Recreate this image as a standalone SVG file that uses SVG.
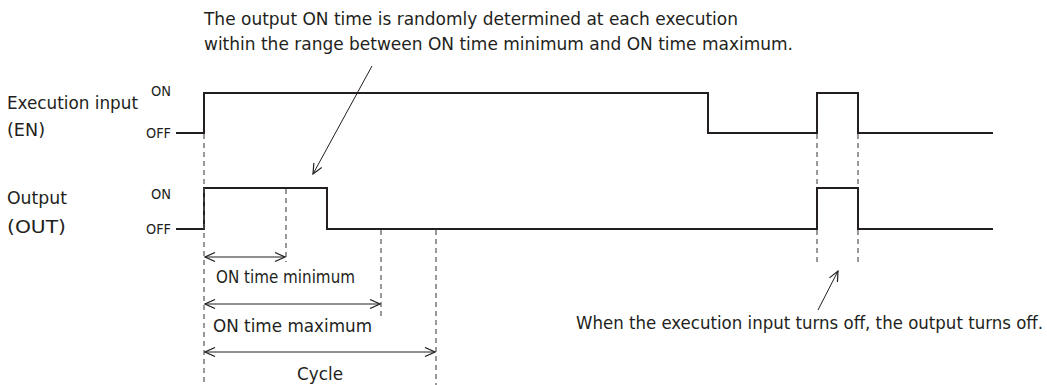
<svg xmlns="http://www.w3.org/2000/svg" width="1047" height="385" viewBox="0 0 1047 385">
<style>
text{font-family:"DejaVu Sans Condensed","DejaVu Sans",sans-serif;fill:#231f20}
.lbl{font-size:17px}
.sm{font-size:14px;text-anchor:end}
.sig{fill:none;stroke:#231f20;stroke-width:2}
.dash{fill:none;stroke:#555;stroke-width:1.2;stroke-dasharray:5,4}
.dim{fill:none;stroke:#231f20;stroke-width:1;marker-start:url(#open);marker-end:url(#open)}
.lead{fill:none;stroke:#231f20;stroke-width:1;marker-end:url(#open)}
</style>
<defs>
<marker id="open" viewBox="0 0 12 10" refX="11" refY="5" markerWidth="12" markerHeight="10" markerUnits="userSpaceOnUse" orient="auto-start-reverse">
<path d="M1,0.5 L11,5 L1,9.5" fill="none" stroke="#231f20" stroke-width="1.2"/>
</marker>
</defs>
<g id="labels">
<text class="lbl" x="7" y="109" textLength="131" lengthAdjust="spacingAndGlyphs">Execution input</text>
<text class="lbl" x="7" y="136" textLength="38" lengthAdjust="spacingAndGlyphs">(EN)</text>
<text class="lbl" x="7" y="204" textLength="60" lengthAdjust="spacingAndGlyphs">Output</text>
<text class="lbl" x="7" y="233" textLength="59" lengthAdjust="spacingAndGlyphs">(OUT)</text>
<text class="sm" x="171" y="96" textLength="20" lengthAdjust="spacingAndGlyphs">ON</text>
<text class="sm" x="171" y="138" textLength="25" lengthAdjust="spacingAndGlyphs">OFF</text>
<text class="sm" x="171" y="199" textLength="20" lengthAdjust="spacingAndGlyphs">ON</text>
<text class="sm" x="171" y="234" textLength="25" lengthAdjust="spacingAndGlyphs">OFF</text>
</g>
<g id="signal-en">
<polyline class="sig" points="176,133 204,133 204,93 708,93 708,133 817,133 817,93 858,93 858,133 993,133"/>
</g>
<g id="signal-out">
<polyline class="sig" points="176,229 204,229 204,188 327,188 327,229 817,229 817,188 858,188 858,229 993,229"/>
</g>
<g id="connectors">
<line class="dash" x1="204" y1="134" x2="204" y2="385"/>
<line class="dash" x1="286" y1="189" x2="286" y2="262"/>
<line class="dash" x1="381" y1="230" x2="381" y2="318"/>
<line class="dash" x1="436" y1="230" x2="436" y2="385"/>
<line class="dash" x1="817" y1="134" x2="817" y2="188"/>
<line class="dash" x1="858" y1="134" x2="858" y2="188"/>
<line class="dash" x1="817" y1="230" x2="817" y2="263"/>
<line class="dash" x1="858" y1="230" x2="858" y2="263"/>
<line class="dim" x1="205" y1="257" x2="285" y2="257"/>
<line class="dim" x1="205" y1="304" x2="380" y2="304"/>
<line class="dim" x1="205" y1="352" x2="435" y2="352"/>
<line class="lead" x1="372" y1="66" x2="313" y2="174"/>
<line class="lead" x1="818" y1="310" x2="838" y2="271"/>
</g>
<g id="annotations">
<text class="lbl" x="204" y="25" textLength="534" lengthAdjust="spacingAndGlyphs">The output ON time is randomly determined at each execution</text>
<text class="lbl" x="204" y="50" textLength="589" lengthAdjust="spacingAndGlyphs">within the range between ON time minimum and ON time maximum.</text>
<text class="lbl" x="216" y="283" textLength="139" lengthAdjust="spacingAndGlyphs">ON time minimum</text>
<text class="lbl" x="213" y="332" textLength="159" lengthAdjust="spacingAndGlyphs">ON time maximum</text>
<text class="lbl" x="297" y="380" textLength="46" lengthAdjust="spacingAndGlyphs">Cycle</text>
<text class="lbl" x="576" y="329" textLength="467" lengthAdjust="spacingAndGlyphs">When the execution input turns off, the output turns off.</text>
</g>
</svg>
